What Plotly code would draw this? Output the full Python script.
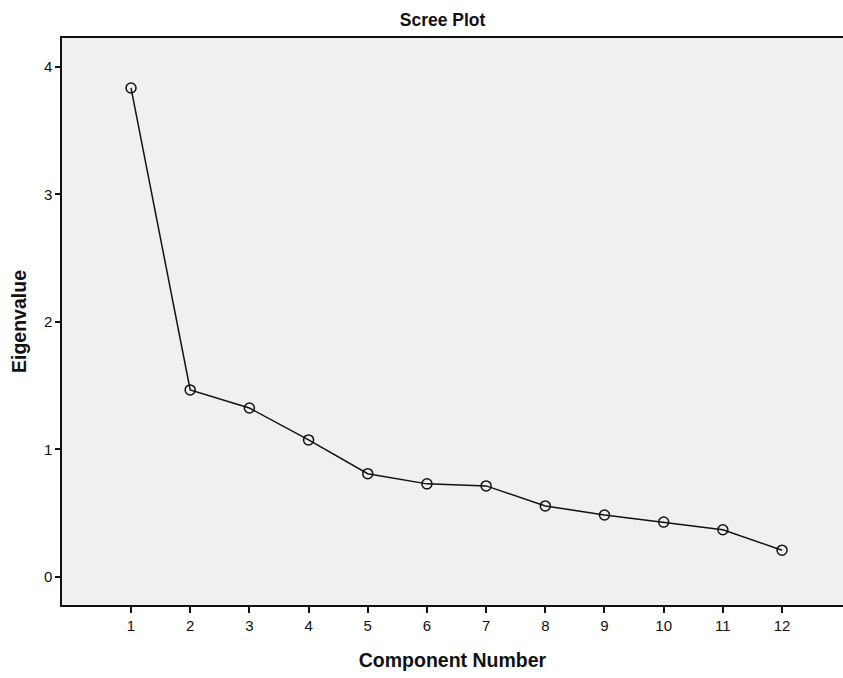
import plotly.graph_objects as go

components = list(range(1, 13))
eigenvalues = [3.835, 1.467, 1.325, 1.075, 0.81, 0.73, 0.714, 0.557, 0.486, 0.43, 0.37, 0.21]
x_ticks = list(range(1, 13))
y_ticks = [0, 1, 2, 3, 4]

fig = go.Figure()
fig.add_trace(go.Scatter(
    x=components, y=eigenvalues, mode="lines+markers",
    line=dict(color="#111111", width=1.5),
    marker=dict(symbol="circle-open", size=10, color="#111111", line=dict(width=1.5)),
    showlegend=False,
))

fig.update_layout(
    width=843, height=678, autosize=False,
    margin=dict(l=62, r=0, t=38, b=73, autoexpand=False),
    paper_bgcolor="white",
    plot_bgcolor="#EFF0F1",
    font=dict(family="Liberation Sans, Arial, sans-serif", color="#111111", size=15),
    title=dict(text="<b>Scree Plot</b>", x=0.525, xanchor="center", y=0.979, yanchor="top",
               font=dict(size=17.5, color="#111111")),
)
fig.update_xaxes(
    range=[-0.166, 13.03], tickvals=x_ticks, ticktext=[str(v) for v in x_ticks],
    tickfont=dict(size=15),
    showgrid=False, zeroline=False, showline=True, linecolor="#111111", linewidth=1.5,
    mirror=True, ticks="outside", ticklen=6, tickcolor="#111111", tickwidth=1.5,
    automargin=False,
    title=dict(text="<b>Component Number</b>", font=dict(size=19.5), standoff=21),
)
fig.update_yaxes(
    range=[-0.22, 4.227], tickvals=y_ticks, ticktext=[str(v) for v in y_ticks],
    tickfont=dict(size=15),
    showgrid=False, zeroline=False, showline=True, linecolor="#111111", linewidth=1.5,
    mirror=True, ticks="outside", ticklen=5, tickcolor="#111111", tickwidth=1.5,
    automargin=False,
    title=dict(text="<b>Eigenvalue</b>", font=dict(size=19.5), standoff=12),
)

post = ("document.body.style.margin='0';document.body.style.overflow='hidden';"
        "var gd=document.getElementById('{plot_id}');"
        "Plotly.relayout(gd,{width:843,height:678});")
fig.write_html("out.html", post_script=post, config={"displayModeBar": False})
